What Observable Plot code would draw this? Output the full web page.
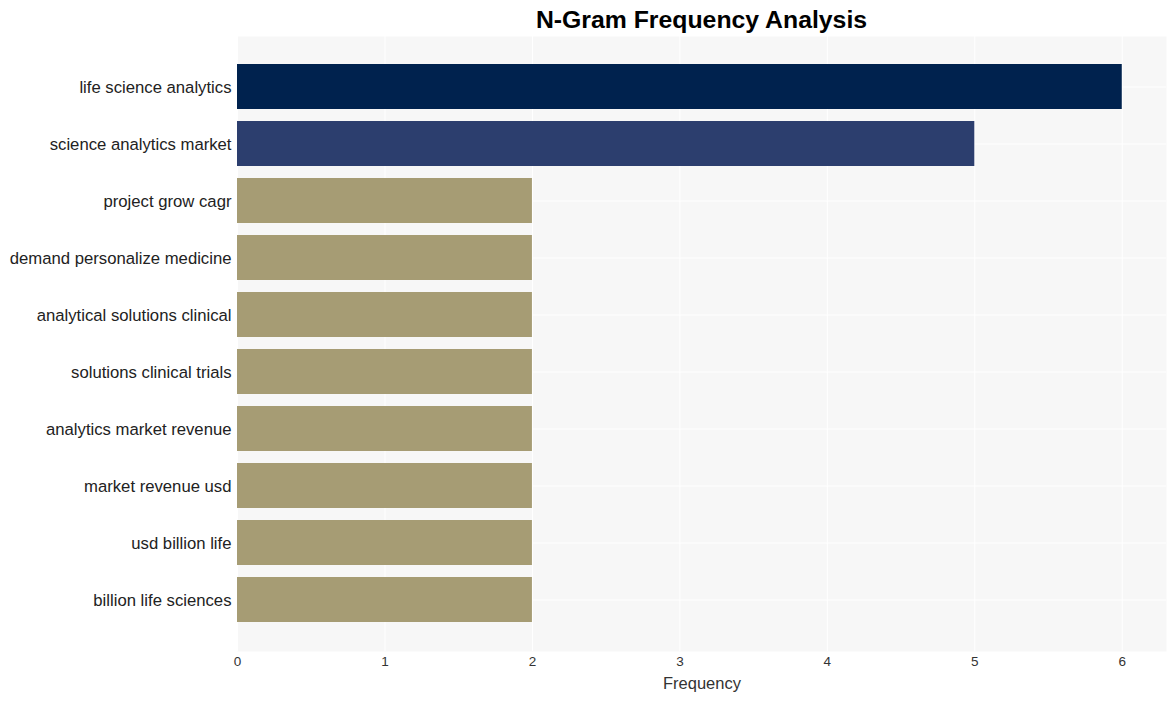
<!DOCTYPE html>
<html><head><meta charset="utf-8">
<script src="https://cdn.jsdelivr.net/npm/d3@7"></script>
<script src="https://cdn.jsdelivr.net/npm/@observablehq/plot@0.6"></script>
<style>
body{margin:0;background:#fff;font-family:"Liberation Sans",Arial,sans-serif}
#title{width:1176px;box-sizing:border-box;padding-left:237px;padding-right:10px;text-align:center;font-weight:bold;font-size:24.8px;height:36px;line-height:40px;color:#000}
</style></head><body>
<div id="title">N-Gram Frequency Analysis</div>
<div id="chart"></div>
<script>
const ngrams = ["life science analytics","science analytics market","project grow cagr","demand personalize medicine","analytical solutions clinical","solutions clinical trials","analytics market revenue","market revenue usd","usd billion life","billion life sciences"];
const frequencies = [6,5,2,2,2,2,2,2,2,2];
const barColors = ["#00224e","#2c3e6e","#a69c74","#a69c74","#a69c74","#a69c74","#a69c74","#a69c74","#a69c74","#a69c74"];
const xTicks = [0,1,2,3,4,5,6];
const data = ngrams.map((n,i)=>({ngram:n, freq:frequencies[i], color:barColors[i]}));
const chart = Plot.plot({
  width:1176, height:665, marginLeft:237, marginRight:10, marginTop:0, marginBottom:50,
  style:{fontFamily:'"Liberation Sans",Arial,sans-serif', background:"#fff", color:"#333"},
  x:{domain:[0,6.3]},
  y:{domain:ngrams, paddingInner:0.21, paddingOuter:0.49, align:0.5},
  color:{type:"identity"},
  marks:[
    Plot.frame({fill:"#f7f7f7", stroke:null}),
    Plot.gridX(xTicks, {stroke:"#fff", strokeOpacity:1, strokeWidth:1}),
    Plot.gridY(ngrams, {stroke:"#fff", strokeOpacity:1, strokeWidth:1}),
    Plot.barX(data, {x:"freq", y:"ngram", fill:"color"}),
    Plot.axisX(xTicks, {tickSize:0, tickPadding:5, fontSize:13.5, fill:"#333", tickFormat:"d", label:"Frequency", labelAnchor:"center", labelArrow:"none", labelOffset:37}),
    Plot.axisY({tickSize:0, tickPadding:6, fontSize:16.7, fill:"#222", label:null, dy:1})
  ]
});
chart.querySelectorAll('[aria-label="x-axis label"] text').forEach(t=>t.setAttribute("font-size","16.5"));
document.getElementById("chart").appendChild(chart);
</script>
</body></html>
